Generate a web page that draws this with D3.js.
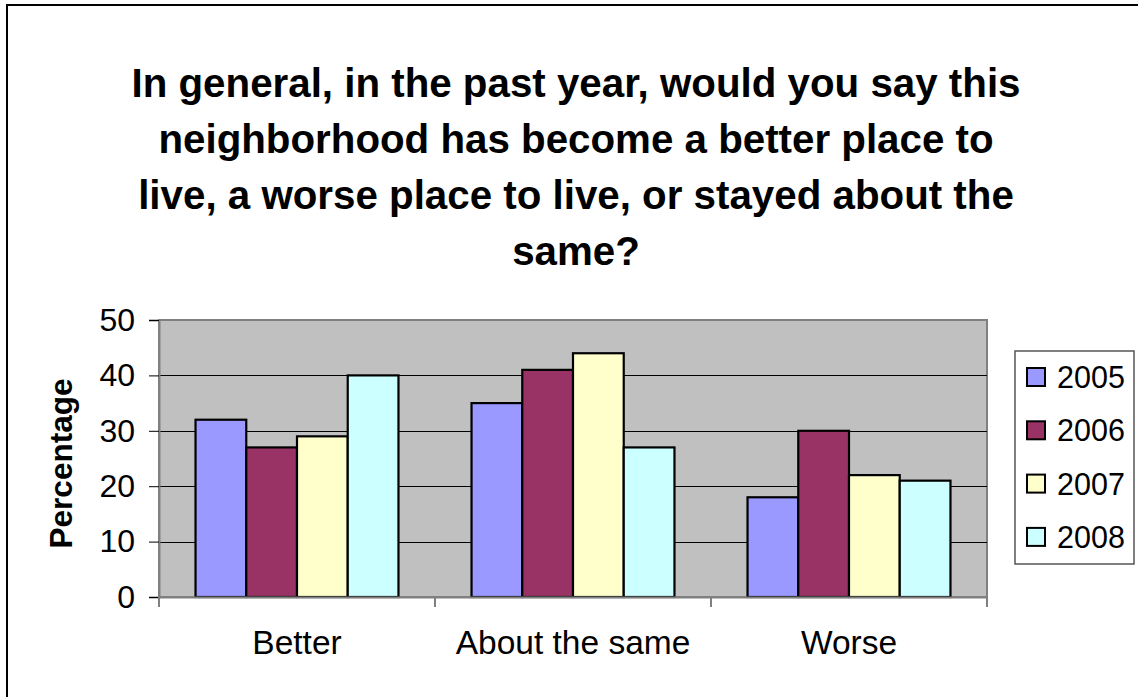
<!DOCTYPE html>
<html>
<head>
<meta charset="utf-8">
<script src="https://cdn.jsdelivr.net/npm/d3@7"></script>
<style>
  html, body { margin: 0; padding: 0; background: #fff; }
  svg { display: block; }
  text { font-family: "Liberation Sans", Arial, sans-serif; }
</style>
</head>
<body>
<svg id="chart" width="1138" height="697"></svg>
<script>
const categories = ["Better", "About the same", "Worse"];
const years = ["2005", "2006", "2007", "2008"];
const values2005 = [32, 35, 18];
const values2006 = [27, 41, 30];
const values2007 = [29, 44, 22];
const values2008 = [40, 27, 21];
const yTicks = [0, 10, 20, 30, 40, 50];
const colors = ["#9999FF", "#993366", "#FFFFCC", "#CCFFFF"];
const titleLines = [
  "In general, in the past year, would you say this",
  "neighborhood has become a better place to",
  "live, a worse place to live, or stayed about the",
  "same?"
];
const yTitle = "Percentage";

const series = [values2005, values2006, values2007, values2008];

const svg = d3.select("#chart");

// outer frame
svg.append("rect")
  .attr("x", 7).attr("y", 5).attr("width", 1150).attr("height", 710)
  .attr("fill", "#fff").attr("stroke", "#000").attr("stroke-width", 2);

const pLeft = 159, pRight = 987, pTop = 320, pBottom = 597;

const x0 = d3.scaleBand().domain(categories).range([pLeft, pRight]).padding(0);
const x1 = d3.scaleBand().domain(years).range([0, x0.bandwidth()]).paddingInner(0).paddingOuter(0.72);
const y = d3.scaleLinear().domain([0, 50]).range([pBottom, pTop]);

// plot area
svg.append("rect")
  .attr("x", pLeft).attr("y", pTop).attr("width", pRight - pLeft).attr("height", pBottom - pTop)
  .attr("fill", "#C0C0C0").attr("stroke", "#808080").attr("stroke-width", 2);

// gridlines
svg.append("g").selectAll("line")
  .data(yTicks.filter(t => t > 0 && t < 50))
  .join("line")
  .attr("x1", pLeft).attr("x2", pRight)
  .attr("y1", d => Math.round(y(d)) + 0.5).attr("y2", d => Math.round(y(d)) + 0.5)
  .attr("stroke", "#000").attr("stroke-width", 1);

// bars
const groups = svg.append("g").selectAll("g")
  .data(categories)
  .join("g")
  .attr("transform", d => `translate(${x0(d)},0)`);

groups.selectAll("rect")
  .data((c, i) => years.map((yr, j) => ({ yr, j, v: series[j][i] })))
  .join("rect")
  .attr("x", d => x1(d.yr))
  .attr("y", d => y(d.v))
  .attr("width", x1.bandwidth())
  .attr("height", d => y(0) - y(d.v))
  .attr("fill", d => colors[d.j])
  .attr("stroke", "#000").attr("stroke-width", 2.2);

// y axis
const yAxis = d3.axisLeft(y).tickValues(yTicks).tickSize(10).tickPadding(14);
const gy = svg.append("g").attr("transform", `translate(${pLeft},0)`).call(yAxis);
gy.select(".domain").attr("stroke", "#808080").attr("stroke-width", 2);
gy.selectAll(".tick line").attr("stroke", "#000").attr("stroke-width", 1);
gy.selectAll(".tick text")
  .attr("font-size", 32).attr("fill", "#000")
  .attr("font-family", "Liberation Sans, Arial, sans-serif");

// x axis
const xAxis = d3.axisBottom(x0).tickSize(0).tickPadding(33);
const gx = svg.append("g").attr("transform", `translate(0,${pBottom})`).call(xAxis);
gx.select(".domain").attr("stroke", "#808080").attr("stroke-width", 2);
gx.selectAll(".tick text")
  .attr("font-size", 33.5).attr("fill", "#000")
  .attr("font-family", "Liberation Sans, Arial, sans-serif");
// category boundary ticks
const boundaries = categories.map(c => x0(c)).concat([x0.range()[1]]);
gx.selectAll(".bound")
  .data(boundaries)
  .join("line")
  .attr("class", "bound")
  .attr("x1", d => d).attr("x2", d => d)
  .attr("y1", 0).attr("y2", 10)
  .attr("stroke", "#808080").attr("stroke-width", 2);

// y title
svg.append("text")
  .attr("transform", `translate(72,${(pTop + pBottom) / 2 + 5}) rotate(-90)`)
  .attr("text-anchor", "middle")
  .attr("font-size", 31.5).attr("font-weight", "bold")
  .text(yTitle);

// title
svg.append("g").selectAll("text")
  .data(titleLines)
  .join("text")
  .attr("x", 576)
  .attr("y", (d, i) => 97 + i * 56)
  .attr("text-anchor", "middle")
  .attr("font-size", 40.3).attr("font-weight", "bold")
  .text(d => d);

// legend
const legend = svg.append("g");
legend.append("rect")
  .attr("x", 1015).attr("y", 351).attr("width", 119).attr("height", 213)
  .attr("fill", "#fff").attr("stroke", "#555").attr("stroke-width", 1.5);
const li = legend.selectAll("g.item")
  .data(years)
  .join("g")
  .attr("class", "item")
  .attr("transform", (d, i) => `translate(1027,${377 + i * 53.3})`);
li.append("rect")
  .attr("x", 0).attr("y", -9).attr("width", 18).attr("height", 18)
  .attr("fill", (d, i) => colors[i]).attr("stroke", "#000").attr("stroke-width", 2);
li.append("text")
  .attr("x", 30).attr("y", 11)
  .attr("font-size", 30.5)
  .text(d => d);
</script>
</body>
</html>
